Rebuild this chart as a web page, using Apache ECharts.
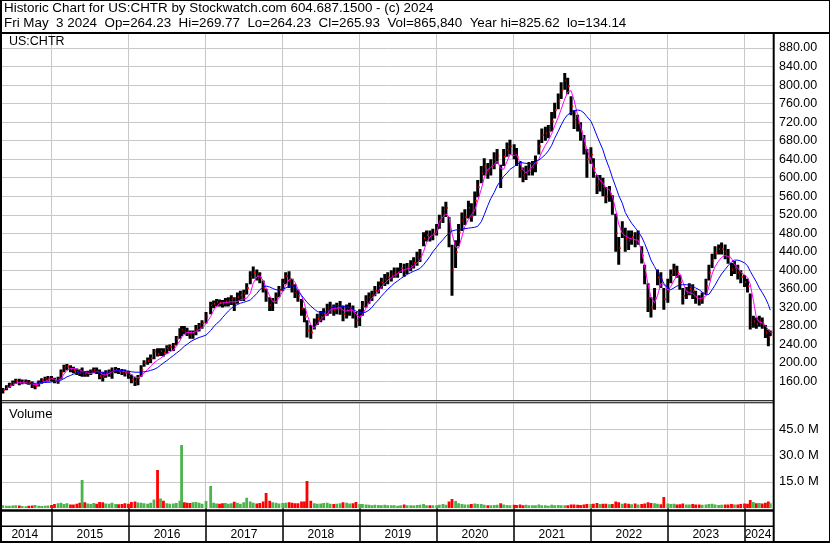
<!DOCTYPE html>
<html>
<head>
<meta charset="utf-8">
<script src="https://cdn.jsdelivr.net/npm/echarts@6/dist/echarts.min.js"></script>
<style>html,body{margin:0;padding:0;background:#fff}#c{width:830px;height:543px}</style>
</head>
<body>
<div id="c"></div>
<script>
// ---- data (semi-monthly samples) ----
const dates = [
'2014-05-15','2014-06-01','2014-06-15','2014-07-01','2014-07-15','2014-08-01','2014-08-15','2014-09-01','2014-09-15','2014-10-01','2014-10-15','2014-11-01','2014-11-15','2014-12-01','2014-12-15',
'2015-01-01','2015-01-15','2015-02-01','2015-02-15','2015-03-01','2015-03-15','2015-04-01','2015-04-15','2015-05-01','2015-05-15','2015-05-26','2015-06-08','2015-06-22','2015-07-06','2015-07-20','2015-08-03','2015-08-17','2015-09-01','2015-09-15','2015-10-01','2015-10-15','2015-11-01','2015-11-15','2015-12-01','2015-12-15',
'2016-01-01','2016-01-15','2016-02-01','2016-02-15','2016-03-01','2016-03-15','2016-04-01','2016-04-15','2016-05-01','2016-05-18','2016-06-01','2016-06-15','2016-07-01','2016-07-15','2016-08-01','2016-08-15','2016-09-01','2016-09-09','2016-09-22','2016-10-05','2016-10-19','2016-11-02','2016-11-16','2016-12-01','2016-12-15',
'2017-01-03','2017-01-25','2017-02-08','2017-02-22','2017-03-08','2017-03-22','2017-04-05','2017-04-19','2017-05-03','2017-05-17','2017-06-01','2017-06-15','2017-07-01','2017-07-15','2017-08-01','2017-08-15','2017-09-01','2017-09-15','2017-10-01','2017-10-15','2017-11-01','2017-11-15','2017-12-01','2017-12-15',
'2018-01-02','2018-01-16','2018-02-01','2018-02-15','2018-03-01','2018-03-15','2018-04-01','2018-04-15','2018-04-27','2018-05-15','2018-06-01','2018-06-15','2018-07-01','2018-07-15','2018-08-01','2018-08-15','2018-09-01','2018-09-15','2018-10-01','2018-10-15','2018-11-01','2018-11-15','2018-12-01','2018-12-15',
'2019-01-02','2019-01-15','2019-02-01','2019-02-15','2019-03-01','2019-03-15','2019-04-01','2019-04-15','2019-05-01','2019-05-15','2019-06-01','2019-06-15','2019-07-01','2019-07-15','2019-08-01','2019-08-15','2019-09-01','2019-09-15','2019-10-01','2019-10-15','2019-11-01','2019-11-15','2019-12-01','2019-12-15',
'2020-01-02','2020-01-15','2020-02-01','2020-02-15','2020-03-01','2020-03-15','2020-04-01','2020-04-15','2020-05-01','2020-05-15','2020-06-01','2020-06-15','2020-07-01','2020-07-15','2020-08-01','2020-08-15','2020-09-01','2020-09-15','2020-10-01','2020-10-15','2020-11-01','2020-11-15','2020-12-01','2020-12-15',
'2021-01-04','2021-01-15','2021-02-01','2021-02-15','2021-03-01','2021-03-15','2021-04-01','2021-04-15','2021-05-01','2021-05-15','2021-06-01','2021-06-15','2021-07-01','2021-07-15','2021-08-01','2021-08-15','2021-09-01','2021-09-15','2021-10-01','2021-10-15','2021-11-01','2021-11-15','2021-12-01','2021-12-15',
'2022-01-03','2022-01-15','2022-02-01','2022-02-15','2022-03-01','2022-03-15','2022-04-01','2022-04-15','2022-05-01','2022-05-15','2022-06-01','2022-06-15','2022-07-01','2022-07-15','2022-08-01','2022-08-15','2022-09-01','2022-09-15','2022-10-01','2022-10-15','2022-11-01','2022-11-15','2022-12-01','2022-12-15',
'2023-01-03','2023-01-17','2023-02-01','2023-02-15','2023-03-01','2023-03-15','2023-04-01','2023-04-15','2023-05-01','2023-05-15','2023-06-01','2023-06-15','2023-07-03','2023-07-17','2023-08-01','2023-08-15','2023-09-01','2023-09-15','2023-10-02','2023-10-16','2023-11-01','2023-11-15','2023-12-01','2023-12-15',
'2024-01-02','2024-01-16','2024-01-29','2024-02-13','2024-02-27','2024-03-12','2024-03-26','2024-04-10','2024-04-24','2024-05-03'
];
const lows = [
134,141,146,150,155,152,154,155,153,146,143,149,155,158,160,
160,156,155,165,180,184,180,178,174,172,170,170,170,174,178,176,165,160,168,170,166,178,176,174,171,
166,156,150,152,170,192,196,200,208,214,215,214,220,226,226,238,252,258,262,258,252,252,260,268,274,
285,305,318,322,322,320,322,322,325,312,328,334,334,348,370,382,378,372,352,332,312,312,328,342,
355,370,362,352,340,332,302,288,255,252,272,282,288,292,302,306,302,305,304,290,296,302,296,276,
280,302,320,328,334,344,350,360,366,370,376,384,384,394,386,392,398,404,410,418,452,462,462,465,
475,490,502,515,450,345,405,452,485,498,512,505,518,558,588,605,598,605,618,630,578,625,645,650,
640,625,600,590,595,605,605,612,650,675,680,685,700,728,748,770,790,780,735,705,700,680,650,600,
630,600,565,570,560,545,548,520,440,412,470,440,444,455,450,455,415,370,310,298,315,368,362,315,
330,372,388,384,358,326,338,346,338,328,324,328,348,378,405,424,434,434,424,414,388,392,380,372,
364,352,272,276,274,278,274,254,236,258
];
const highs = [
146,152,157,162,166,166,164,164,163,160,155,162,167,170,172,
172,168,170,186,196,198,195,192,188,186,190,182,183,186,190,190,186,180,184,186,190,191,189,187,186,
183,175,170,174,195,206,212,218,230,232,232,232,238,240,243,258,275,280,280,276,270,270,282,286,292,
310,332,335,338,337,336,340,342,346,342,352,356,358,372,398,408,402,396,378,360,342,340,352,366,
382,396,398,382,370,358,338,318,292,282,296,306,312,318,328,332,326,330,334,324,326,330,324,310,
316,334,346,352,356,366,376,384,392,396,400,406,406,416,414,416,422,428,440,446,482,486,486,490,
500,520,538,548,515,455,465,500,525,532,550,545,570,595,625,642,632,640,655,662,628,662,676,682,
672,664,636,622,626,634,636,648,682,706,710,714,742,762,782,806,826,816,776,746,736,720,692,662,
666,642,606,606,600,580,582,562,522,472,506,492,486,486,482,486,452,412,372,342,362,402,396,362,
382,402,414,410,390,362,364,372,370,356,346,352,382,412,436,452,456,460,456,446,416,420,412,400,
390,382,350,302,298,302,298,282,272,270
];
const closes = [
142,148,152,157,162,157,160,160,158,150,150,157,163,166,167,
166,162,165,180,190,192,187,185,181,178,182,176,178,182,185,182,172,170,178,180,184,186,182,180,179,
172,164,160,168,186,200,205,210,225,220,226,222,232,235,238,252,265,272,270,266,262,264,272,280,286,
300,325,328,332,330,328,333,335,338,332,342,346,350,362,386,396,390,384,362,342,325,332,342,358,
372,388,378,368,352,345,318,300,270,266,286,296,300,306,316,320,314,318,320,306,314,318,310,292,
302,322,336,342,346,356,366,374,380,385,390,395,396,405,400,406,410,416,428,432,470,476,474,480,
490,508,520,535,480,400,440,482,508,515,535,518,550,580,610,625,615,625,640,648,600,645,660,668,
655,645,615,605,612,620,622,632,668,692,696,700,722,746,766,790,810,798,755,725,718,700,670,640,
650,620,585,592,580,560,566,540,480,448,490,468,465,472,466,472,432,390,340,320,340,385,380,338,
355,390,402,396,374,345,352,360,355,342,335,340,366,396,420,438,446,446,440,430,402,406,396,386,
375,366,288,290,284,290,284,266,258,266
];
const volumesM = [
1.8,1.5,1.4,1.6,1.7,1.6,1.3,1.2,1.4,1.6,1.9,1.5,1.3,1.4,1.6,
1.9,2.4,2.8,3.1,2.5,2.9,2.2,2.1,2.6,3.1,16.0,3.4,2.7,2.4,3.0,2.6,3.6,3.4,2.7,2.6,3.2,2.5,2.3,2.4,2.9,
2.6,3.6,3.8,3.3,3.1,2.8,2.6,3.1,5.0,21.7,5.5,4.3,2.9,2.6,2.7,3.0,4.3,35.9,3.4,3.2,3.0,3.4,3.6,3.1,2.6,
4.1,12.7,3.1,2.7,2.6,2.8,3.0,2.6,2.9,3.7,3.1,2.6,3.4,6.0,3.8,3.2,2.7,3.0,3.8,8.7,4.3,3.4,3.1,2.7,
3.0,3.2,3.4,3.1,2.9,2.8,3.9,3.8,15.5,4.3,2.9,2.6,2.7,3.0,3.2,2.6,2.5,2.6,2.9,3.4,3.1,2.7,2.8,3.6,
2.4,2.5,2.2,2.0,1.8,2.0,1.9,1.8,2.0,1.8,1.7,1.8,1.5,1.8,2.1,1.8,1.7,1.6,1.9,2.0,2.5,1.8,1.7,1.8,
1.7,2.0,2.5,2.0,3.8,5.3,4.2,2.8,2.5,2.1,2.2,2.5,2.7,2.4,2.5,2.0,1.8,1.8,1.9,2.0,2.8,2.1,1.9,1.8,
2.0,1.9,2.1,1.8,2.0,1.8,1.7,1.8,2.1,1.8,1.7,1.5,2.0,1.8,1.9,1.7,1.8,1.7,2.1,2.2,2.0,1.9,2.1,2.4,
2.4,2.6,3.0,2.4,2.6,2.6,2.3,2.4,3.8,3.4,2.6,2.8,2.6,2.3,2.7,2.2,2.4,2.7,3.4,3.0,2.9,2.6,2.3,6.4,
2.7,2.4,2.6,2.2,2.3,2.7,2.2,2.1,2.4,2.2,2.1,2.0,2.2,2.4,2.6,2.1,1.9,2.0,2.2,2.1,2.4,2.2,2.2,2.4,
2.7,2.6,4.7,3.6,2.9,3.0,2.7,3.2,3.8,2.8
];
const maShort = [
null,145,148,152,156,158,157,157,156,155,153,154,157,160,163,
166,165,162,166,176,184,188,188,187,185,182,181,178,177,179,182,180,175,174,177,181,184,184,183,181,
180,175,169,168,172,178,186,193,200,206,210,215,220,224,228,236,248,256,262,266,266,265,268,272,276,
285,300,314,322,328,330,330,331,332,332,333,336,338,340,350,372,386,388,378,362,345,333,332,340,
355,368,380,382,374,360,345,328,305,282,275,284,293,300,306,314,318,318,319,314,312,314,314,305,
298,305,318,330,340,347,355,364,372,379,384,389,393,398,401,403,405,410,416,422,440,460,472,476,
482,505,515,522,515,480,450,448,472,495,510,520,530,550,575,600,618,622,628,636,620,618,635,650,
648,650,632,616,610,615,625,632,640,655,670,680,695,712,730,748,770,785,788,768,735,710,685,660,
640,620,605,595,588,578,574,560,530,500,480,474,470,468,466,465,440,410,370,342,330,345,372,370,
357,365,378,388,393,375,355,352,350,344,339,340,345,365,392,408,420,428,432,430,426,412,405,396,
390,384,370,335,298,288,287,280,272,266
];
const maLong = [
null,null,null,null,null,null,null,155,155,156,156,157,157,158,158,
159,160,161,163,166,170,173,176,178,180,181,181,181,181,181,181,180,180,180,181,182,183,184,184,183,
182,181,180,180,180,181,182,184,186,190,195,200,205,210,216,221,227,231,236,240,245,249,252,255,257,
260,270,278,285,290,298,305,312,318,323,326,329,331,333,336,342,350,358,364,366,364,361,358,358,
359,362,365,367,364,355,346,338,331,323,316,311,309,308,312,318,322,324,323,322,321,320,316,312,
309,308,310,314,320,328,336,344,352,359,366,372,377,382,387,391,395,398,401,404,412,420,430,440,
450,458,466,474,480,485,487,488,489,490,491,492,493,495,505,520,540,555,568,582,594,603,610,618,
624,628,633,632,631,630,631,634,638,643,650,658,670,685,700,714,728,736,741,745,746,745,740,732,
722,710,690,675,660,640,620,600,580,562,545,525,512,502,492,484,472,458,440,422,408,396,384,372,
362,358,362,366,368,369,369,368,366,362,358,353,347,348,358,368,382,392,402,410,418,422,422,420,
416,410,398,386,375,362,352,340,326,314
];
const yearStarts = ['2015-01-01','2016-01-01','2017-01-01','2018-01-01','2019-01-01','2020-01-01','2021-01-01','2022-01-01','2023-01-01','2024-01-01'];
const yearLabelDates = ['2014-08-27','2015-07-02','2016-07-02','2017-07-02','2018-07-02','2019-07-02','2020-07-02','2021-07-02','2022-07-02','2023-07-02','2024-03-06'];
const yearLabels = ['2014','2015','2016','2017','2018','2019','2020','2021','2022','2023','2024'];
const volumeTicks = [15, 30, 45];
const headerLine1 = 'Historic Chart for US:CHTR by Stockwatch.com 604.687.1500 - (c) 2024';
const headerLine2 = 'Fri May  3 2024  Op=264.23  Hi=269.77  Lo=264.23  Cl=265.93  Vol=865,840  Year hi=825.62  lo=134.14';

// ---- chart ----
const T = s => Date.UTC(+s.slice(0, 4), +s.slice(5, 7) - 1, +s.slice(8, 10));
const FONT = '"Liberation Sans", Arial, sans-serif';
const xMin = T('2014-05-11'), xMax = T('2024-05-16');
const ticksT = yearStarts.map(T);
const labelT = yearLabelDates.map(T);
const GRID = '#c8c8c8';

const ohlcData = dates.map((d, i) => [T(d), lows[i], highs[i], closes[i]]);
const maSData = dates.map((d, i) => [T(d), maShort[i]]).filter(p => p[1] != null);
const maLData = dates.map((d, i) => [T(d), maLong[i]]).filter(p => p[1] != null);
const volData = dates.map((d, i) => [T(d), volumesM[i], (i === 0 || closes[i] >= closes[i - 1]) ? 1 : 0]);

const chart = echarts.init(document.getElementById('c'), null, {renderer: 'canvas'});
const blk = (x, y, w, h) => ({type: 'rect', shape: {x, y, width: w, height: h}, style: {fill: '#000'}, z: 100, silent: true});
const txt = (x, y, t, size) => ({type: 'text', x, y, style: {text: t, font: size + 'px ' + FONT, fill: '#000', verticalAlign: 'middle'}, z: 101, silent: true});

chart.setOption({
  animation: false,
  backgroundColor: '#fff',
  grid: [
    {left: 2, right: 57, top: 29.5, height: 370.5},
    {left: 2, right: 57, top: 403.5, height: 104.8}
  ],
  xAxis: [
    {type: 'value', gridIndex: 0, min: xMin, max: xMax, scale: true,
     axisLine: {show: false}, axisTick: {show: false, customValues: ticksT},
     axisLabel: {show: false, customValues: ticksT}, splitLine: {show: true, lineStyle: {color: GRID, width: 1}}},
    {type: 'value', gridIndex: 1, min: xMin, max: xMax, scale: true,
     axisLine: {show: false},
     axisTick: {show: true, customValues: ticksT, length: 34.5, lineStyle: {color: '#000', width: 1.5}},
     axisLabel: {show: true, customValues: labelT, margin: 20.5, color: '#000', fontSize: 12, fontFamily: FONT,
       formatter: v => yearLabels[labelT.indexOf(v)] || ''},
     splitLine: {show: true, lineStyle: {color: GRID, width: 1}}}
  ],
  yAxis: [
    {type: 'value', gridIndex: 0, position: 'right', min: 120, max: 920, interval: 40,
     axisLine: {show: false}, axisTick: {show: false},
     splitLine: {lineStyle: {color: GRID, width: 1}},
     axisLabel: {margin: 6, color: '#000', fontSize: 12.5, fontFamily: FONT,
       formatter: v => (v < 160 || v > 880) ? '' : v.toFixed(2)}},
    {type: 'value', gridIndex: 1, position: 'right', min: 0, max: 59.5,
     axisLine: {show: false}, axisTick: {show: false, customValues: volumeTicks},
     splitLine: {lineStyle: {color: GRID, width: 1}},
     axisLabel: {margin: 6, color: '#000', fontSize: 13, fontFamily: FONT, customValues: volumeTicks,
       formatter: v => v.toFixed(1) + ' M'}}
  ],
  series: [
    {type: 'custom', xAxisIndex: 0, yAxisIndex: 0, data: ohlcData, clip: true, z: 2,
     encode: {x: 0, y: [1, 2, 3]},
     renderItem: (params, api) => {
       const t = api.value(0);
       const lo = api.coord([t, api.value(1)]);
       const hi = api.coord([t, api.value(2)]);
       const cl = api.coord([t, api.value(3)]);
       return {type: 'group', children: [
         {type: 'rect', shape: {x: lo[0] - 1.5, y: hi[1], width: 3.0, height: Math.max(1, lo[1] - hi[1])}, style: {fill: '#000'}},
         {type: 'rect', shape: {x: cl[0] + 0.5, y: cl[1] - 0.8, width: 1.6, height: 1.8}, style: {fill: '#ff0000'}}
       ]};
     }},
    {type: 'line', xAxisIndex: 0, yAxisIndex: 0, data: maSData, showSymbol: false, z: 3,
     lineStyle: {color: '#ff00ff', width: 1}, itemStyle: {color: '#ff00ff'}},
    {type: 'line', xAxisIndex: 0, yAxisIndex: 0, data: maLData, showSymbol: false, z: 4,
     lineStyle: {color: '#0000ff', width: 1}, itemStyle: {color: '#0000ff'}},
    {type: 'custom', xAxisIndex: 1, yAxisIndex: 1, data: volData, clip: true, z: 2,
     encode: {x: 0, y: 1},
     renderItem: (params, api) => {
       const top = api.coord([api.value(0), api.value(1)]);
       const base = api.coord([api.value(0), 0]);
       return {type: 'rect', shape: {x: top[0] - 1.4, y: top[1], width: 2.8, height: base[1] - top[1]},
               style: {fill: api.value(2) ? '#4db34d' : '#ff0000'}};
     }}
  ],
  graphic: {elements: [
    {type: 'rect', shape: {x: 0, y: 0, width: 830, height: 32}, style: {fill: '#fff'}, z: 99, silent: true},
    txt(4, 8, headerLine1, 13.4),
    txt(4, 23.5, headerLine2, 13.4),
    txt(9, 41.5, 'US:CHTR', 12.5),
    txt(9, 414, 'Volume', 13),
    blk(0, 0, 830, 1),
    blk(829, 0, 1, 543),
    blk(0, 32, 830, 2),
    blk(0, 0, 2, 543),
    blk(772.7, 33, 2, 510),
    blk(0, 400.3, 773, 1),
    blk(0, 402.3, 773, 1),
    blk(0, 509.3, 773, 2.4),
    blk(0, 525.5, 773, 1.6),
    blk(0, 541, 830, 2)
  ]}
});
</script>
</body>
</html>
